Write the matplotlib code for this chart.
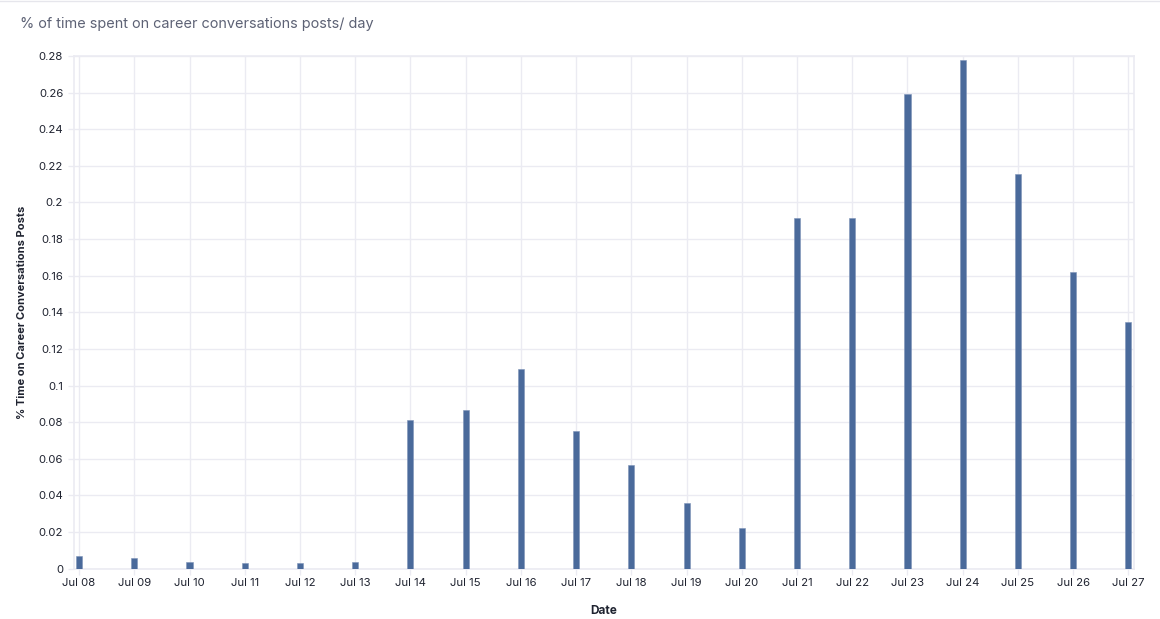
import matplotlib
matplotlib.use("Agg")
import matplotlib.pyplot as plt
import numpy as np
from matplotlib.ticker import FuncFormatter, MultipleLocator

dates = ["Jul 08", "Jul 09", "Jul 10", "Jul 11", "Jul 12", "Jul 13", "Jul 14",
         "Jul 15", "Jul 16", "Jul 17", "Jul 18", "Jul 19", "Jul 20", "Jul 21",
         "Jul 22", "Jul 23", "Jul 24", "Jul 25", "Jul 26", "Jul 27"]
values = [0.0068, 0.0059, 0.0035, 0.0030, 0.0031, 0.0035, 0.0810,
          0.0868, 0.1092, 0.0753, 0.0568, 0.0360, 0.0222, 0.1917,
          0.1917, 0.2590, 0.2776, 0.2153, 0.1622, 0.1350]

plt.rcParams['font.family'] = ['Inter', 'DejaVu Sans']

fig = plt.figure(figsize=(11.6, 6.19), dpi=100)
ax = fig.add_axes([0.0634, 0.0813, 0.9146, 0.8282])

x = np.arange(len(dates))
grid_c = "#ebebf2"
ax.bar(x, values, width=0.11, color="#4a6a9b", edgecolor="#7d93b8", linewidth=0.4, zorder=3)

ax.set_xlim(-0.1, len(dates) - 1 + 0.11)
ax.set_ylim(0, 0.28)
ax.yaxis.set_major_locator(MultipleLocator(0.02))
ax.yaxis.set_major_formatter(FuncFormatter(lambda v, p: f"{round(v, 4):g}"))
ax.set_xticks(x)
ax.set_xticklabels(dates)

ax.grid(True, color=grid_c, linewidth=1.0, zorder=0)
for s in ax.spines.values():
    s.set_color(grid_c)
    s.set_linewidth(1.2)

ax.tick_params(axis='both', colors=grid_c, labelcolor="#1f2330", labelsize=8.2, length=4, width=1)
ax.tick_params(axis='x', pad=3)

ax.set_xlabel("Date", fontsize=8.5, fontweight='bold', color="#1f2330", labelpad=12)
ax.set_ylabel("% Time on Career Conversations Posts", fontsize=8.0, fontweight='bold', color="#1f2330", labelpad=8)

fig.text(0.0172, 0.962, "% of time spent on career conversations posts/ day", fontsize=10.4,
         color="#5d6275", ha='left', va='center')

fig.add_artist(plt.Line2D([0, 1], [0.998, 0.998], color="#e6e6ec", linewidth=1.0, transform=fig.transFigure))

fig.savefig("out.png", dpi=100)
